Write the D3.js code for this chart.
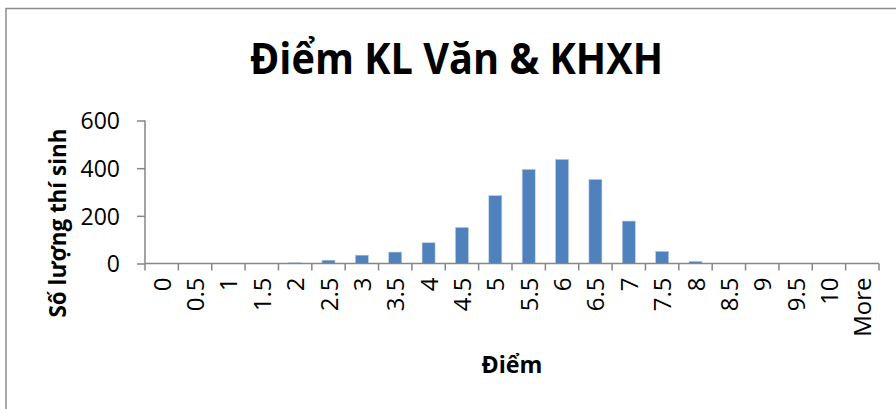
<!DOCTYPE html>
<html><head><meta charset="utf-8">
<script src="https://cdn.jsdelivr.net/npm/d3@7"></script>
<style>body{margin:0;background:#fff;}svg{display:block;}</style>
</head><body>
<script>
const categories = ["0","0.5","1","1.5","2","2.5","3","3.5","4","4.5","5","5.5","6","6.5","7","7.5","8","8.5","9","9.5","10","More"];
const counts = [0,0,0,0,3,14,35,48,87,151,285,395,437,353,178,51,9,0,0,0,0,0];
const yTicks = [0,200,400,600];
const title = "Điểm KL Văn & KHXH";
const xTitle = "Điểm";
const yTitle = "Số lượng thí sinh";

const W = 896, H = 409;
const svg = d3.select("body").append("svg").attr("width", W).attr("height", H);
const font = "'Open Sans', Lato, sans-serif";

// frame
svg.append("path").attr("d", `M6,${H} L6,8.5 L${W},8.5`).attr("fill","none").attr("stroke","#8c8c8c").attr("stroke-width",1.5);

const xb = d3.scaleBand().domain(categories).range([145, 879]);
const y = d3.scaleLinear().domain([0, 600]).range([263.5, 120.5]);

// bars
svg.append("g").selectAll("rect").data(counts).join("rect")
  .attr("x", (d,i) => xb(categories[i]) + xb.bandwidth()/2 - 6.5)
  .attr("width", 13)
  .attr("y", d => y(d))
  .attr("height", d => y(0) - y(d))
  .attr("fill", "#4f81bd")
  .attr("stroke", "#b9cde5").attr("stroke-width", 0.6);

// y axis
const yAxis = svg.append("g").attr("transform","translate(145,0)")
  .call(d3.axisLeft(y).tickValues(yTicks).tickSize(8).tickPadding(17));
yAxis.select(".domain").attr("stroke","#868686").attr("stroke-width",1.5).attr("d","M0,120.5V263.5");
yAxis.selectAll(".tick line").attr("stroke","#868686").attr("stroke-width",1.5);
yAxis.selectAll(".tick text").attr("font-family",font).attr("font-size",23).attr("fill","#000").attr("dy","0.36em");

// x axis: ticks at category boundaries
const xAxis = svg.append("g").attr("transform",`translate(0,${y(0)})`);
xAxis.append("line").attr("x1",145).attr("x2",879).attr("stroke","#868686").attr("stroke-width",1.5);
const bounds = categories.map(c => xb(c)).concat([xb(categories[categories.length-1]) + xb.bandwidth()]);
xAxis.selectAll("line.t").data(bounds).join("line").attr("class","t")
  .attr("x1",d=>d).attr("x2",d=>d).attr("y1",0).attr("y2",7)
  .attr("stroke","#868686").attr("stroke-width",1.5);
xAxis.selectAll("text").data(categories).join("text")
  .attr("transform", d => `translate(${xb(d)+xb.bandwidth()/2 + 9},14) rotate(-90)`)
  .attr("text-anchor","end")
  .attr("font-family",font).attr("font-size",24).attr("fill","#000")
  .text(d => d);

// title
svg.append("text").attr("x",456.5).attr("y",74).attr("text-anchor","middle")
  .attr("font-family",font).attr("font-weight","bold").attr("font-size",43)
  .attr("textLength",413).attr("lengthAdjust","spacingAndGlyphs")
  .text(title);

// x title
svg.append("text").attr("x",512).attr("y",373).attr("text-anchor","middle")
  .attr("font-family",font).attr("font-weight","bold").attr("font-size",23)
  .attr("textLength",61).attr("lengthAdjust","spacingAndGlyphs")
  .text(xTitle);

// y title
svg.append("text").attr("transform","translate(66,223) rotate(-90)").attr("text-anchor","middle")
  .attr("font-family",font).attr("font-weight","bold").attr("font-size",23)
  .attr("textLength",189).attr("lengthAdjust","spacingAndGlyphs")
  .text(yTitle);
</script>
</body></html>
